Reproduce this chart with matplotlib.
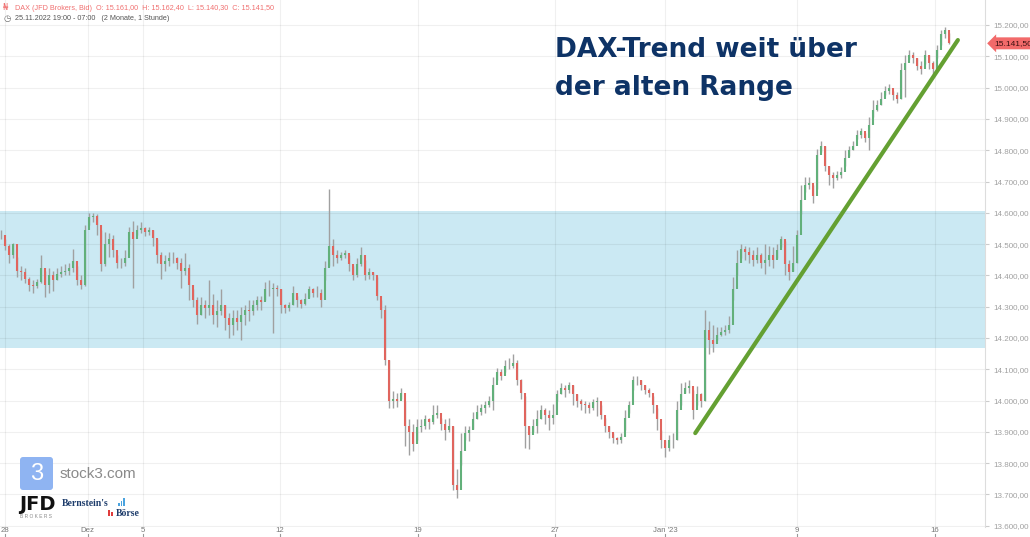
import numpy as np
import matplotlib
matplotlib.use("Agg")
import matplotlib.pyplot as plt
from matplotlib.patches import FancyBboxPatch, Rectangle
from matplotlib.transforms import IdentityTransform

plt.rcParams["font.family"] = ["Liberation Sans", "DejaVu Sans"]

closes = [
    14530, 14495, 14465, 14500, 14415, 14410, 14390, 14370, 14365, 14380,
    14425, 14370, 14400, 14385, 14405, 14410, 14415, 14425, 14445, 14385,
    14370, 14545, 14585, 14590, 14560, 14435, 14500, 14515, 14480, 14440,
    14440, 14455, 14540, 14515, 14545, 14550, 14540, 14545, 14520, 14465,
    14435, 14445, 14455, 14455, 14440, 14415, 14425, 14370, 14320, 14275,
    14305, 14295, 14305, 14275, 14285, 14305, 14265, 14240, 14265, 14250,
    14275, 14290, 14285, 14305, 14320, 14315, 14355, 14355, 14360, 14355,
    14305, 14295, 14305, 14345, 14320, 14310, 14325, 14355, 14345, 14345,
    14320, 14425, 14495, 14465, 14455, 14465, 14470, 14435, 14400, 14435,
    14465, 14400, 14410, 14400, 14335, 14290, 14130, 14000, 14005, 14000,
    14025, 13920, 13900, 13860, 13915, 13920, 13940, 13930, 13955, 13960,
    13925, 13905, 13920, 13730, 13715, 13840, 13895, 13905, 13940, 13965,
    13975, 13985, 14000, 14050, 14090, 14080, 14110, 14110, 14120, 14065,
    14025, 13920, 13890, 13920, 13940, 13970, 13955, 13945, 13955, 14020,
    14040, 14035, 14050, 14020, 14000, 13990, 13985, 13975, 13995, 14000,
    13955, 13920, 13900, 13880, 13875, 13885, 13945, 13985, 14065, 14065,
    14050, 14035, 14025, 13985, 13940, 13875, 13850, 13875, 13875, 13970,
    14020, 14040, 14045, 13970, 14020, 14000, 14225, 14195, 14180, 14210,
    14220, 14225, 14240, 14355, 14440, 14485, 14475, 14465, 14450, 14465,
    14440, 14450, 14465, 14450, 14480, 14515, 14435, 14410, 14440, 14530,
    14640, 14690, 14695, 14655, 14785, 14815, 14750, 14720, 14710, 14720,
    14730, 14775, 14800, 14815, 14850, 14860, 14840, 14880, 14930, 14945,
    14965, 14990, 15000, 14975, 14965, 15055, 15080, 15105, 15095, 15070,
    15060, 15105, 15080, 15060, 15120, 15170, 15185, 15141.5,
]
lows = [
    14515, 14480, 14440, 14455, 14395, 14385, 14375, 14350, 14345, 14360,
    14375, 14330, 14345, 14350, 14385, 14395, 14400, 14400, 14410, 14370,
    14355, 14365, 14560, 14570, 14530, 14415, 14430, 14460, 14460, 14425,
    14425, 14430, 14500, 14360, 14530, 14535, 14525, 14530, 14495, 14440,
    14390, 14415, 14430, 14440, 14420, 14360, 14400, 14320, 14300, 14245,
    14275, 14265, 14275, 14245, 14235, 14275, 14225, 14200, 14210, 14225,
    14195, 14240, 14255, 14275, 14290, 14290, 14320, 14335, 14215, 14335,
    14280, 14280, 14285, 14305, 14300, 14295, 14305, 14330, 14330, 14330,
    14300, 14385, 14430, 14430, 14440, 14450, 14455, 14415, 14385, 14395,
    14430, 14385, 14390, 14385, 14320, 14265, 14115, 13975, 13975, 13980,
    14005, 13855, 13825, 13840, 13875, 13900, 13910, 13910, 13925, 13945,
    13905, 13875, 13900, 13715, 13690, 13795, 13875, 13870, 13910, 13940,
    13955, 13960, 13980, 13970, 14065, 14065, 14090, 14100, 14105, 14050,
    14005, 13850, 13845, 13900, 13895, 13940, 13925, 13905, 13925, 14000,
    14020, 14010, 14025, 13985, 13980, 13970, 13960, 13960, 13970, 13950,
    13940, 13900, 13880, 13865, 13860, 13865, 13905, 13960, 14035, 14050,
    14035, 14020, 14010, 13960, 13905, 13850, 13820, 13840, 13850, 13875,
    13985, 14025, 14025, 13940, 13985, 13980, 14000, 14150, 14155, 14195,
    14205, 14210, 14215, 14320, 14400, 14455, 14450, 14440, 14430, 14440,
    14425, 14405, 14430, 14425, 14455, 14490, 14400, 14385, 14415, 14440,
    14595, 14665, 14675, 14630, 14675, 14795, 14735, 14690, 14680, 14705,
    14710, 14750, 14780, 14800, 14835, 14840, 14825, 14800, 14905, 14925,
    14945, 14975, 14980, 14960, 14950, 14965, 14970, 15090, 15080, 15055,
    15045, 15075, 15060, 15040, 15095, 15135, 15160, 15140,
]
highs = [
    14545, 14515, 14500, 14505, 14460, 14430, 14425, 14395, 14385, 14390,
    14465, 14415, 14425, 14415, 14425, 14430, 14435, 14440, 14485, 14430,
    14400, 14560, 14600, 14600, 14595, 14545, 14540, 14535, 14530, 14465,
    14455, 14480, 14555, 14575, 14560, 14570, 14555, 14555, 14545, 14515,
    14475, 14465, 14475, 14475, 14460, 14455, 14470, 14435, 14355, 14330,
    14330, 14320, 14385, 14340, 14320, 14355, 14305, 14280, 14290, 14290,
    14300, 14305, 14320, 14320, 14335, 14335, 14380, 14385, 14375, 14370,
    14355, 14310, 14315, 14365, 14335, 14325, 14345, 14365, 14360, 14365,
    14355, 14445, 14675, 14515, 14480, 14475, 14480, 14465, 14430, 14455,
    14490, 14450, 14425, 14410, 14395, 14320, 14305, 14130, 14030, 14025,
    14040, 14000, 13940, 13925, 13940, 13940, 13955, 13945, 13985, 13985,
    13945, 13940, 13945, 13920, 13780, 13895, 13920, 13920, 13965, 13985,
    13990, 14000, 14015, 14075, 14105, 14100, 14130, 14135, 14150, 14130,
    14070, 14015, 13920, 13940, 13970, 13985, 13975, 13970, 13990, 14035,
    14055, 14050, 14060, 14050, 14020, 14005, 14000, 13995, 14005, 14010,
    13985, 13945, 13920, 13895, 13885, 13895, 13970, 14000, 14080, 14080,
    14065, 14050, 14040, 14015, 13975, 13905, 13875, 13890, 13895, 14000,
    14055, 14060, 14065, 14035, 14045, 14025, 14290, 14255, 14240, 14235,
    14235, 14240, 14270, 14395, 14480, 14500, 14495, 14490, 14480, 14490,
    14470, 14500, 14495, 14490, 14500, 14525, 14510, 14450, 14495, 14545,
    14690, 14715, 14715, 14690, 14805, 14830, 14815, 14750, 14730, 14735,
    14745, 14800, 14815, 14830, 14865, 14870, 14855, 14905, 14960, 14960,
    14985, 15005, 15010, 14990, 14985, 15080, 15105, 15120, 15115, 15095,
    15085, 15120, 15105, 15085, 15135, 15185, 15195, 15175,
]

# Handelstage ab 28.11.
tick_days = [0, 3, 5, 10, 15, 20, 24, 28.8, 33.8]
tick_labels = ["28", "Dez", "5", "12", "19", "27", "Jan '23", "9", "16"]

range_low, range_high = 14168, 14606
trend_x = [25.1, 34.65]
trend_y = [13896, 15152]

last_price = 15141.5
header = "DAX (JFD Brokers, Bid)  O: 15.161,00  H: 15.162,40  L: 15.140,30  C: 15.141,50"
subheader = "25.11.2022 19:00 - 07:00   (2 Monate, 1 Stunde)"


def de_num(v):
    return f"{v:,.2f}".replace(",", "X").replace(".", ",").replace("X", ".")


W, H = 1030, 537
fig = plt.figure(figsize=(W / 100, H / 100), dpi=100)
ax = fig.add_axes([0, (H - 527) / H, 985 / W, 527 / H])

bars_per_day = 27.5 / 4
c = np.array(closes, dtype=float)
o = np.r_[c[0], c[:-1]]
xs = -4 / 27.5 + np.arange(len(c)) / bars_per_day

ax.set_xlim(-5 / 27.5, 980 / 27.5)
ax.set_ylim(13596, 15280)

# Range-Band
ax.axhspan(range_low, range_high, color="#cbe9f3", lw=0, zorder=0)

# Gitter
for v in range(13600, 15300, 100):
    ax.axhline(v, color="black", alpha=0.06, lw=0.8, zorder=1)
for d in tick_days:
    ax.axvline(d, color="black", alpha=0.06, lw=0.8, zorder=1)

# Kerzen
ax.vlines(xs, lows, highs, color="#a0a0a0", lw=1.0, zorder=3)
up = c >= o
ax.vlines(xs[up], o[up], c[up], color="#62b07a", lw=1.5, zorder=4)
ax.vlines(xs[~up], o[~up], c[~up], color="#e0655e", lw=1.5, zorder=4)

# Trendlinie
ax.plot(trend_x, trend_y, color="#64a032", lw=3, solid_capstyle="round", zorder=5)

# Achsen
for s in ["left", "top", "bottom"]:
    ax.spines[s].set_visible(False)
ax.spines["right"].set_color("#dddddd")
ax.yaxis.tick_right()
yt = list(range(13600, 15300, 100))
ax.set_yticks(yt)
ax.set_yticklabels([de_num(v) for v in yt])
ax.tick_params(axis="y", length=3, color="#cccccc", labelcolor="#a0a0a0", labelsize=5.8, pad=3)
ax.set_xticks([])

xtr = ax.get_xaxis_transform()
for d, lab in zip(tick_days, tick_labels):
    ax.text(d, -0.007, lab, transform=xtr, ha="center", va="center",
            fontsize=5.6, color="#777777", clip_on=False)
    ax.plot([d, d], [-0.013, -0.02], transform=xtr, color="#999999", lw=0.8, clip_on=False)

# Kursmarke
ax.text(1.009, last_price, de_num(last_price), transform=ax.get_yaxis_transform(),
        ha="left", va="center", fontsize=6, color="#3a1010", clip_on=False,
        bbox=dict(boxstyle="larrow,pad=0.3", fc="#f26a6a", ec="none"))

# Titel
fig.text(555 / W, 1 - 57 / H, "DAX-Trend weit über", fontsize=19, fontweight="bold",
         family="DejaVu Sans", color="#0e3366", va="baseline")
fig.text(555 / W, 1 - 95 / H, "der alten Range", fontsize=19, fontweight="bold",
         family="DejaVu Sans", color="#0e3366", va="baseline")

# Kopfzeile
fig.text(3 / W, 1 - 8 / H, "₦", fontsize=6, color="#f07070", va="center", family="DejaVu Sans")
fig.text(15 / W, 1 - 8 / H, header, fontsize=5.2, color="#f07070", va="center")
fig.text(3 / W, 1 - 18 / H, "◷", fontsize=6, color="#666666", va="center", family="DejaVu Sans")
fig.text(15 / W, 1 - 18 / H, subheader, fontsize=5.2, color="#555555", va="center")

# Logos
fig.add_artist(FancyBboxPatch((20, H - 490), 33, 33, boxstyle="round,pad=0,rounding_size=3",
                              fc="#8fb4f2", ec="none", transform=IdentityTransform()))
fig.text(36.5 / W, 1 - 474 / H, "3", fontsize=17, color="white", ha="center", va="center")
fig.text(60 / W, 1 - 474 / H, "stock3.com", fontsize=11, color="#8a8a8a", va="center")
fig.text(19 / W, 1 - 504 / H, "JFD", fontsize=14, fontweight="bold", color="#111111",
         va="center", family="DejaVu Sans")
fig.text(20 / W, 1 - 516 / H, "B R O K E R S", fontsize=3.5, color="#888888", va="center")
fig.text(62 / W, 1 - 503 / H, "Bernstein's", fontsize=7, fontweight="bold",
         family="Liberation Serif", color="#1d3c6b", va="center")
fig.text(116 / W, 1 - 513 / H, "Börse", fontsize=7, fontweight="bold",
         family="Liberation Serif", color="#1d3c6b", va="center")
for i, hgt in enumerate([3, 5, 8]):
    fig.add_artist(Rectangle((118 + i * 2.5, H - 506), 1.5, hgt, fc="#4aa3df", ec="none",
                             transform=IdentityTransform()))
for i, hgt in enumerate([6, 4]):
    fig.add_artist(Rectangle((108 + i * 3, H - 516), 1.8, hgt, fc="#e03c3c", ec="none",
                             transform=IdentityTransform()))

fig.savefig("out.png", dpi=100)
